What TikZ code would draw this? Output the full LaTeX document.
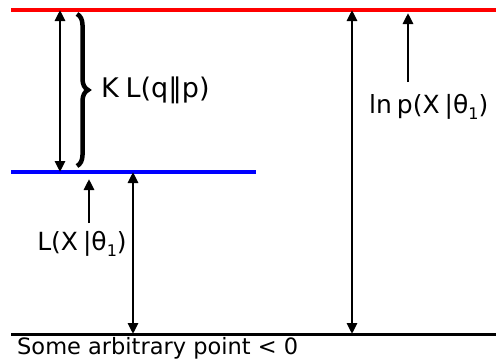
\documentclass[tikz,border=0pt]{standalone}
\usepackage{fontspec}
\setmainfont{DejaVu Sans}
\usetikzlibrary{arrows.meta,positioning,calc,decorations.pathreplacing}
\tikzset{
  szint/.style={line width=3.5pt},
  nyil/.style={line width=2.8pt,-{Triangle[length=11pt,width=10pt]}},
  kettos/.style={line width=2.8pt,{Triangle[length=11pt,width=10pt]}-{Triangle[length=11pt,width=10pt]}},
  cimke/.style={font=\fontsize{25}{29}\selectfont,inner sep=0pt},
  kapocs/.style={decorate,decoration={brace,amplitude=11pt},line width=4.5pt},
}
\newcommand{\alsoindex}[1]{\raisebox{-0.45ex}{\fontsize{16}{18}\selectfont #1}}
\newcommand{\ksz}{\hspace{0.2em}}

\begin{document}
\begin{tikzpicture}[x=1pt,y=-1pt]
  \useasboundingbox (0,0) rectangle (496,362);
  % szintek
  \coordinate (r0) at (11,10);  \coordinate (r1) at (496,10);
  \coordinate (b0) at (11,172); \coordinate (b1) at (256,172);
  \coordinate (k0) at (11,334); \coordinate (k1) at (496,334);
  \draw[szint,red] (r0) -- (r1);
  \draw[szint,blue] (b0) -- (b1);
  \draw[szint,black,line width=3pt] (k0) -- (k1);
  % cimkek
  \node[cimke,anchor=west,font=\fontsize{27}{31}\selectfont] (kl) at (101,90) {K\hspace{0.25em}L(q‖p)};
  \node[cimke] (lx) at (82,244) {L(X\ksz|θ\alsoindex{1})};
  \node[cimke,anchor=west] (lnp) at (369,107) {ln\ksz p(X\ksz|θ\alsoindex{1})};
  \node[cimke,anchor=north west,font=\fontsize{22.5}{26}\selectfont] (alja) at (17,337) {Some arbitrary point < 0};
  % nyilak
  \coordinate (xa) at (60,0);
  \coordinate (xb) at (133,0);
  \coordinate (xc) at (352,0);
  \coordinate (lv) at (89,223);
  \coordinate (lnv) at (408,82);
  \draw[kettos] (r0 -| xa) -- (b0 -| xa);
  \draw[kettos] (b0 -| xb) -- (k0 -| xb);
  \draw[kettos] (r0 -| xc) -- (k0 -| xc);
  \draw[kapocs] (77,14) -- (77,166);
  \draw[nyil] (lv) -- ([yshift=-7pt]b0 -| lv);
  \draw[nyil] (lnv) -- ([yshift=-3pt]r0 -| lnv);
\end{tikzpicture}
\end{document}
